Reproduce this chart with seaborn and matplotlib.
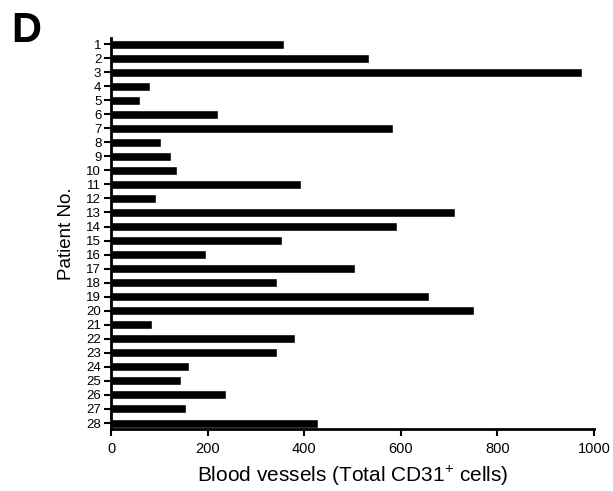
import matplotlib
matplotlib.use("Agg")
import matplotlib.pyplot as plt
import seaborn as sns
import pandas as pd

patients = [str(i) for i in range(1, 29)]
vessels = [358, 534, 975, 81, 59, 222, 584, 103, 124, 136, 393, 93, 713, 593,
           353, 197, 506, 344, 659, 752, 85, 380, 343, 161, 145, 238, 156, 429]
xticks = [0, 200, 400, 600, 800, 1000]

sns.set_theme(style="ticks")
plt.rcParams["font.family"] = ["Liberation Sans", "DejaVu Sans"]
plt.rcParams["mathtext.fontset"] = "custom"
plt.rcParams["mathtext.rm"] = "Liberation Sans"
plt.rcParams["mathtext.it"] = "Liberation Sans:italic"
for k in ["text.color", "axes.labelcolor", "xtick.color", "ytick.color", "axes.edgecolor"]:
    plt.rcParams[k] = "black"

df = pd.DataFrame({"patient": patients, "vessels": vessels})

fig = plt.figure(figsize=(6.13, 4.91), dpi=100)
ax = fig.add_axes([0.1811, 0.1253, 0.7879, 0.7973])
sns.barplot(data=df, x="vessels", y="patient", orient="h", order=patients,
            color="black", width=0.64, saturation=1, ax=ax)

ax.set_xlim(0, 1000)
ax.set_ylim(27.46, -0.43)
ax.set_xticks(xticks)
ax.set_xticklabels([str(t) for t in xticks], fontsize=10.5)
ax.tick_params(axis="y", labelsize=9.5, length=5, width=1.5, pad=2)
ax.tick_params(axis="x", length=5, width=1.5, pad=4)
for s in ["top", "right"]:
    ax.spines[s].set_visible(False)
for s in ["left", "bottom"]:
    ax.spines[s].set_linewidth(2)
ax.set_xlabel("Blood vessels (Total CD31$^{+}$ cells)", fontsize=15, labelpad=6)
ax.set_ylabel("Patient No.", fontsize=13.5, labelpad=8)
fig.text(0.019, 0.977, "D", fontsize=30, fontweight="bold", va="top", ha="left")

fig.savefig("out.png", dpi=100)
